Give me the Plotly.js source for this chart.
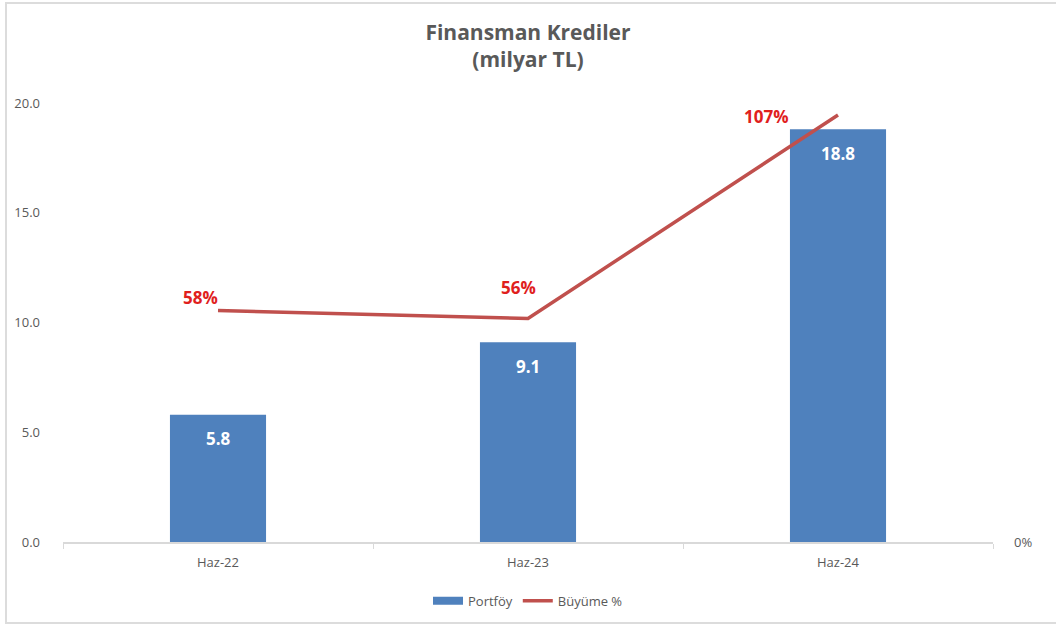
<!DOCTYPE html>
<html>
<head>
<meta charset="utf-8">
<script src="https://cdn.plot.ly/plotly-3.0.1.min.js"></script>
<style>
  html, body { margin: 0; padding: 0; background: #fff; }
  #wrap { position: absolute; left: 5px; top: 2px; width: 1060px; height: 622px; border: 2px solid #dcdcdc; box-sizing: border-box; }
  #chart { position: absolute; left: 0; top: 0; width: 1056px; height: 627px; }
</style>
</head>
<body>
<div id="wrap"></div>
<div id="chart"></div>
<script>
const categories = ['Haz-22', 'Haz-23', 'Haz-24'];
const portfoy = [5.8, 9.1, 18.8];
const buyume = [0.58, 0.56, 1.07];
const buyumeLabels = ['58%', '56%', '107%'];
const leftTicks = [0, 5, 10, 15, 20];

const FONT = '"Open Sans", "Noto Sans", sans-serif';
const GRAY = '#595959';
const BLUE = '#4f81bd';

const bars = {
  type: 'bar', name: 'Portföy', x: categories, y: portfoy,
  marker: { color: BLUE }, width: 0.31, yaxis: 'y', hoverinfo: 'skip', showlegend: false
};
const barLegend = {
  type: 'scatter', mode: 'lines', name: 'Portföy', x: [null], y: [null],
  line: { color: BLUE, width: 8 }, yaxis: 'y', hoverinfo: 'skip', showlegend: true
};
const line = {
  type: 'scatter', mode: 'lines', name: 'Büyüme %', x: categories, y: buyume,
  line: { color: '#c0504d', width: 3.5 }, yaxis: 'y2', hoverinfo: 'skip'
};

const barAnn = categories.map((c, i) => ({
  x: c, y: portfoy[i], xref: 'x', yref: 'y', text: portfoy[i].toFixed(1),
  showarrow: false, yshift: -24,
  font: { family: FONT, size: 17, color: '#ffffff', weight: 'bold' }
}));
const lineOffsets = [[-18, 13], [-10, 31], [-72, -2]];
const lineAnn = categories.map((c, i) => ({
  x: c, y: buyume[i], xref: 'x', yref: 'y2', text: buyumeLabels[i],
  showarrow: false, xshift: lineOffsets[i][0], yshift: lineOffsets[i][1],
  font: { family: FONT, size: 17, color: '#e0201c', weight: 'bold' }
}));

const layout = {
  width: 1056, height: 627,
  margin: { l: 63, r: 63, t: 103, b: 85, autoexpand: false },
  paper_bgcolor: 'rgba(0,0,0,0)', plot_bgcolor: 'rgba(0,0,0,0)',
  font: { family: FONT, color: GRAY, size: 13 },
  title: {
    text: '<b>Finansman Krediler<br>(milyar TL)</b>',
    x: 0.5, xanchor: 'center', yref: 'container', y: 0.936, yanchor: 'top',
    font: { family: FONT, size: 21, color: GRAY, lineposition: 'none' }, automargin: false
  },
  xaxis: {
    type: 'category', range: [-0.5, 2.5],
    showline: true, linecolor: '#d9d9d9', linewidth: 1.5,
    ticks: 'outside', tickson: 'boundaries', ticklen: 5, tickcolor: '#d9d9d9',
    ticklabelstandoff: 8,
    showgrid: false, tickfont: { family: FONT, size: 13, color: GRAY },
    fixedrange: true
  },
  yaxis: {
    range: [0, 20], tickvals: leftTicks, ticktext: leftTicks.map(v => v.toFixed(1)),
    showgrid: false, zeroline: false, showline: false, ticks: '',
    ticklabelstandoff: 22, tickfont: { family: FONT, size: 13, color: GRAY },
    fixedrange: true
  },
  yaxis2: {
    overlaying: 'y', side: 'right', range: [0, 1.1],
    tickvals: [0], ticktext: ['0%'], showgrid: false, zeroline: false,
    showline: false, ticks: '', ticklabelstandoff: 20,
    tickfont: { family: FONT, size: 13, color: GRAY }, fixedrange: true
  },
  showlegend: true,
  legend: {
    orientation: 'h', x: 0.5, xanchor: 'center', y: -0.134, yanchor: 'middle',
    font: { family: FONT, size: 13, color: GRAY }, itemwidth: 30, traceorder: 'normal'
  },
  annotations: barAnn.concat(lineAnn)
};

Plotly.newPlot('chart', [bars, barLegend, line], layout, { displayModeBar: false, staticPlot: true });
</script>
</body>
</html>
